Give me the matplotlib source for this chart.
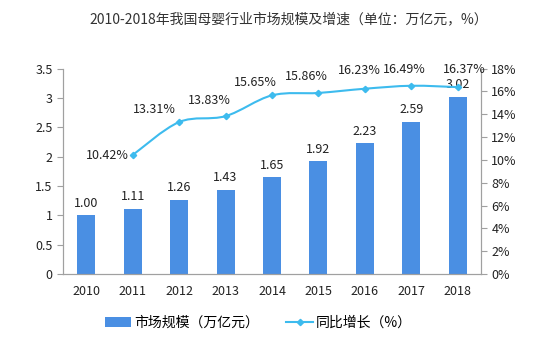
import numpy as np
import matplotlib.pyplot as plt
from matplotlib.ticker import FuncFormatter
from matplotlib.path import Path
from matplotlib.patches import PathPatch
from matplotlib.lines import Line2D

plt.rcParams['font.family'] = ['Noto Sans CJK SC', 'DejaVu Sans']

years = ['2010', '2011', '2012', '2013', '2014', '2015', '2016', '2017', '2018']
scale = [1.00, 1.11, 1.26, 1.43, 1.65, 1.92, 2.23, 2.59, 3.02]
growth_years = ['2011', '2012', '2013', '2014', '2015', '2016', '2017', '2018']
growth = [10.42, 13.31, 13.83, 15.65, 15.86, 16.23, 16.49, 16.37]
# label offsets (points) for the growth labels, as placed in the original
growth_offsets = [(-18, 0), (-18, 9), (-12, 11), (-12, 9), (-9, 12), (-4, 13), (-5, 12), (5, 13)]

line_col = '#3dbbee'

fig = plt.figure(figsize=(5.4, 3.45), dpi=100)
ax = fig.add_axes([0.1167, 0.2058, 0.774, 0.5956])
ax2 = ax.twinx()

x = np.arange(len(years))
ax.bar(x, scale, width=0.39, color='#4a8fe3', label='市场规模（万亿元）', zorder=2)
for xi, v in zip(x, scale):
    ax.annotate(f'{v:.2f}', (xi, v), xytext=(0, 4), textcoords='offset points',
                ha='center', va='bottom', fontsize=9, color='#222222')

# smoothed line (Catmull-Rom as cubic bezier, like Excel's smoothed line)
gx = np.array([years.index(y) for y in growth_years], dtype=float)
gy = np.array(growth)
pts = np.column_stack([gx, gy])
ext = np.vstack([pts[0], pts, pts[-1]])
verts = [pts[0]]
codes = [Path.MOVETO]
for i in range(len(pts) - 1):
    p0, p1, p2, p3 = ext[i], ext[i + 1], ext[i + 2], ext[i + 3]
    verts += [p1 + (p2 - p0) / 6, p2 - (p3 - p1) / 6, p2]
    codes += [Path.CURVE4] * 3
ax2.add_patch(PathPatch(Path(verts, codes), fill=False, edgecolor=line_col, lw=1.5, zorder=3))
ax2.plot(gx, gy, ls='none', marker='D', ms=3.2, color=line_col, zorder=4)
for xi, v, off in zip(gx, growth, growth_offsets):
    ax2.annotate(f'{v:.2f}%', (xi, v), xytext=off, textcoords='offset points',
                 ha='center', va='center', fontsize=9, color='#222222')

ax.set_xlim(-0.5, len(years) - 0.5)
ax.set_ylim(0, 3.5)
ax.set_yticks(np.arange(0, 3.51, 0.5))
ax.yaxis.set_major_formatter(FuncFormatter(lambda v, p: f'{v:g}'))
ax2.set_ylim(0, 18)
ax2.set_yticks(np.arange(0, 18.1, 2))
ax2.yaxis.set_major_formatter(FuncFormatter(lambda v, p: f'{v:.0f}%'))
ax.set_xticks(x)
ax.set_xticklabels(years)

for a in (ax, ax2):
    a.spines['top'].set_visible(False)
    for s in ('left', 'right', 'bottom'):
        a.spines[s].set_color('#a0a0a0')
    a.tick_params(axis='y', colors='#a0a0a0', labelcolor='#222222', labelsize=9, length=4)
ax.tick_params(axis='x', length=0, labelsize=9, labelcolor='#222222', pad=8)

fig.text(0.535, 0.945, '2010-2018年我国母婴行业市场规模及增速（单位：万亿元，%）',
         ha='center', va='center', fontsize=10, color='#333333')

h1, l1 = ax.get_legend_handles_labels()
h2 = [Line2D([], [], color=line_col, lw=1.5, marker='D', ms=3.2)]
l2 = ['同比增长（%）']
fig.legend(h1 + h2, l1 + l2, loc='center', bbox_to_anchor=(0.478, 0.065), ncol=2,
           frameon=False, fontsize=10, handlelength=1.9, handleheight=0.7,
           columnspacing=2.0, handletextpad=0.2)

fig.savefig('out.png', dpi=100)
